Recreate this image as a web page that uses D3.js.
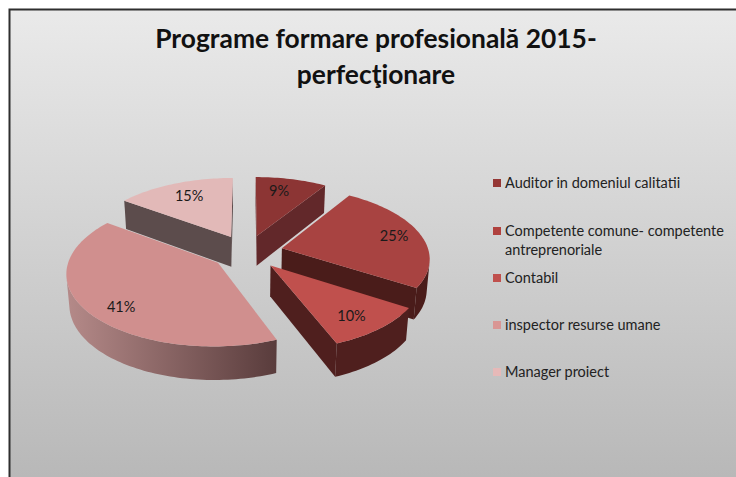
<!DOCTYPE html>
<html><head><meta charset="utf-8">
<script src="https://cdn.jsdelivr.net/npm/d3@7"></script>
<style>html,body{margin:0;padding:0;background:#fff}svg{display:block}text{font-family:Lato,"Open Sans",sans-serif;fill:#1a1a1a}</style>
</head><body><svg id="c" width="736" height="477"></svg>
<script>
const categories = ["Auditor in domeniul calitatii","Competente comune- competente antreprenoriale","Contabil","inspector resurse umane","Manager proiect"];
const values = [9,25,10,41,15];
const legendLines = [["Auditor in domeniul calitatii"],["Competente comune- competente","antreprenoriale"],["Contabil"],["inspector resurse umane"],["Manager proiect"]];
const titleLines = ["Programe formare profesională 2015-","perfecţionare"];
const topColors = ["#8c3534","#a84341","#c0504d","#d08f8e","#e2b9b8"];
const legendColors = ["#953735","#b0413e","#c0504d","#d99694","#e6b9b8"];
const wallColors = [["#62282a","#62282a"],["#4a1c1a","#4a1c1a"],["#4f1f1e","#4f1f1e"],["#b58a89","#593c3c"],["#5c4c4c","#5c4c4c"]];
const labelRadius = [100,118,122,128,108];
const labelNudge = [[-2,-5],[1,0],[-8,-1],[16,2],[1,-1]];

const W=736,H=477;
const svg=d3.select("#c");
const defs=svg.append("defs");
const bg=defs.append("linearGradient").attr("id","bg").attr("x1",0).attr("y1",0).attr("x2",0).attr("y2",1);
bg.append("stop").attr("offset",0).attr("stop-color","#eaeaea");
bg.append("stop").attr("offset",1).attr("stop-color","#b8b8b8");
svg.append("rect").attr("x",9).attr("y",9).attr("width",W-9).attr("height",H-9).attr("fill","url(#bg)");
svg.append("path").attr("d",`M9.5,${H}V9.5H${W}`).attr("fill","none").attr("stroke","#2e2e2e").attr("stroke-width",2);

// perspective projection of a tilted, exploded 3D pie
const C={x:247,y:252},R=147,E=36,DEPTH=35,F=1020,elev=28.5*Math.PI/180;
function project(X,Y,Z){
  const up=Y*Math.sin(elev)+Z*Math.cos(elev), away=Y*Math.cos(elev)-Z*Math.sin(elev);
  const s=F/(F+away);
  return [C.x+X*s,C.y-up*s];
}
const pie=d3.pie().sort(null).startAngle(0).endAngle(2*Math.PI)(values);
const line=d3.line();
const arcs=pie.map((d,i)=>{
  const mid=(d.startAngle+d.endAngle)/2;
  return {i,value:d.value,a0:d.startAngle,a1:d.endAngle,mid,ox:E*Math.sin(mid),oy:E*Math.cos(mid)};
});
function pt(s,r,a,z){return project(s.ox+r*Math.sin(a),s.oy+r*Math.cos(a),z);}
const area=d3.polygonArea;
const order=[...arcs].sort((a,b)=>Math.cos(b.mid)-Math.cos(a.mid));
const g=svg.append("g");
order.forEach(s=>{
  const n=Math.max(8,Math.ceil((s.a1-s.a0)*40));
  const ang=d3.range(n+1).map(k=>s.a0+(s.a1-s.a0)*k/n);
  const topRim=ang.map(a=>pt(s,R,a,0)), botRim=ang.map(a=>pt(s,R,a,-DEPTH));
  const apexT=project(s.ox,s.oy,0), apexB=project(s.ox,s.oy,-DEPTH);
  const gid="w"+s.i;
  const lg=defs.append("linearGradient").attr("id",gid).attr("gradientUnits","userSpaceOnUse")
    .attr("x1",d3.min(topRim,p=>p[0])).attr("x2",d3.max(topRim,p=>p[0])).attr("y1",0).attr("y2",0);
  lg.append("stop").attr("offset",0).attr("stop-color",wallColors[s.i][0]);
  lg.append("stop").attr("offset",1).attr("stop-color",wallColors[s.i][1]);
  const dark=wallColors[s.i][1];
  [[apexT,topRim[0],botRim[0],apexB],[topRim[n],apexT,apexB,botRim[n]]].forEach(q=>{
    if(area(q)>0) g.append("path").attr("d",line(q)+"Z").attr("fill",dark);
  });
  // outer wall as one path over the front-facing part of the rim
  const vis=d3.range(n).filter(k=>area([topRim[k],topRim[k+1],botRim[k+1],botRim[k]])>0);
  if(vis.length){
    const idx=[...vis,vis[vis.length-1]+1];
    const poly=[...idx.map(k=>topRim[k]),...idx.slice().reverse().map(k=>botRim[k])];
    g.append("path").attr("d",line(poly)+"Z").attr("fill",`url(#${gid})`);
  }
  g.append("path").attr("d",line([apexT,...topRim])+"Z").attr("fill",topColors[s.i]);
});
arcs.forEach(s=>{
  const p=pt(s,labelRadius[s.i],s.mid,0);
  svg.append("text").attr("x",p[0]+labelNudge[s.i][0]).attr("y",p[1]+labelNudge[s.i][1]).attr("dy",".35em").attr("text-anchor","middle")
    .attr("font-size",14.5).text(s.value+"%");
});
titleLines.forEach((t,i)=>svg.append("text").attr("x",376).attr("y",48+i*36).attr("text-anchor","middle")
  .attr("font-size",26.4).attr("font-weight",700).style("fill","#111").text(t));
const rowY=[183,231,278,325,372];
legendLines.forEach((lines,i)=>{
  svg.append("rect").attr("x",493).attr("y",rowY[i]-4).attr("width",8).attr("height",8).attr("fill",legendColors[i]);
  lines.forEach((t,k)=>svg.append("text").attr("x",505).attr("y",rowY[i]+k*18.5).attr("dy",".35em")
    .attr("font-size",14.5).style("fill","#222").text(t));
});
</script></body></html>
